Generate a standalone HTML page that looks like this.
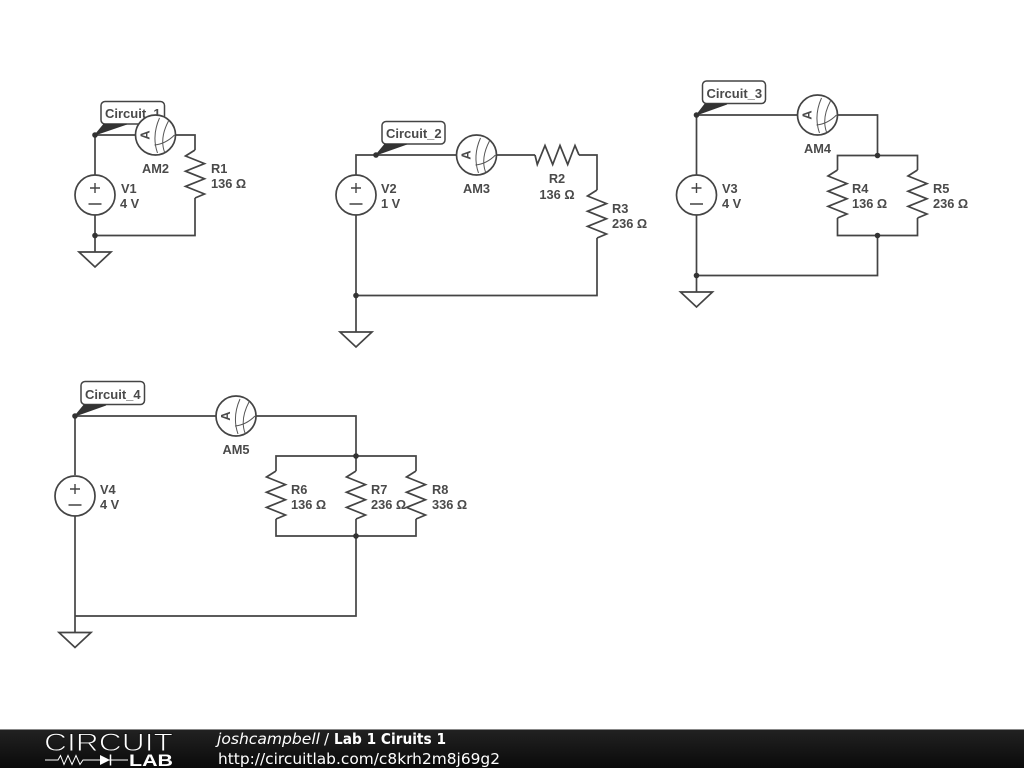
<!DOCTYPE html>
<html><head><meta charset="utf-8"><title>Lab 1 Ciruits 1</title>
<style>html,body{margin:0;padding:0;background:#fff;width:1024px;height:768px;overflow:hidden}svg{display:block}
.w{fill:none;stroke:#444;stroke-width:1.700}
.l{font:bold 12.8px "Liberation Sans",sans-serif;fill:#4a4a4a}
.t{font:bold 13px "Liberation Sans",sans-serif;fill:#4a4a4a}
.f{font-family:"DejaVu Sans",sans-serif;fill:#fff;font-size:15px}
</style></head><body>
<svg width="1024" height="768" viewBox="0 0 1024 768" xmlns="http://www.w3.org/2000/svg">
<defs>
<linearGradient id="bar" x1="0" y1="0" x2="0" y2="1"><stop offset="0" stop-color="#222"/><stop offset="1" stop-color="#0a0a0a"/></linearGradient>
<g id="am"><circle r="20" fill="#fff" stroke="#444" stroke-width="1.700"/>
<text class="l" transform="translate(-6,0) rotate(-90)" text-anchor="middle" y="0" style="font-size:13px">A</text>
<path d="M4,-17Q-4,1 2,18M13,-14Q4,3 9,17M-1,10Q10,9 19,0" fill="none" stroke="#555" stroke-width="1"/></g>
<polyline id="rv" class="w" points="0,-25 -9.500,-19 9.500,-11.400 -9.500,-3.800 9.500,3.800 -9.500,11.400 9.500,19 0,23"/>
<polyline id="rh" class="w" points="-22,0 -19.700,9.500 -12,-9.500 -4.300,9.500 3,-9.500 10.700,9.500 18,-9.500 22,0"/>
<g id="src"><circle r="20" fill="#fff" stroke="#444" stroke-width="1.700"/><path d="M-5,-7H5M0,-12V-2M-6.500,9H6.500" fill="none" stroke="#444" stroke-width="1.400"/></g>
<path id="gnd" class="w" d="M-16,0H16L0,15Z" style="fill:#fff"/>
<circle id="d" r="2.800" fill="#333"/>
</defs>
<rect width="1024" height="768" fill="#fff"/>

<!-- Circuit 1 -->
<path class="w" d="M95,175V135H195V150M195,198V235.500H95M95,215V252"/>
<use href="#rv" x="195" y="175"/><use href="#src" x="95" y="195"/><use href="#gnd" x="95" y="252"/>
<use href="#d" x="95" y="235.500"/>
<rect x="101" y="101.500" width="63.500" height="22.500" rx="4" fill="#fff" stroke="#444" stroke-width="1.500"/>
<text class="t" x="105" y="118">Circuit_1</text>
<path d="M95,135L104,124H127Z" fill="#333" stroke="#333"/><use href="#d" x="95" y="135"/>
<use href="#am" x="155.500" y="135"/>
<text class="l" x="155.500" y="173" text-anchor="middle">AM2</text>
<text class="l" x="121" y="193">V1</text><text class="l" x="120" y="208">4 V</text>
<text class="l" x="211" y="173">R1</text><text class="l" x="211" y="188">136 Ω</text>

<!-- Circuit 2 -->
<path class="w" d="M356,175V155H535M579,155H597V190M597,238V295.500H356M356,215V332"/>
<use href="#rh" x="557" y="155"/><use href="#rv" x="597" y="215"/><use href="#src" x="356" y="195"/><use href="#gnd" x="356" y="332"/>
<use href="#d" x="356" y="295.500"/>
<rect x="382" y="121.500" width="63" height="22.500" rx="4" fill="#fff" stroke="#444" stroke-width="1.500"/>
<text class="t" x="386" y="138">Circuit_2</text>
<path d="M376,155L385,144H407Z" fill="#333" stroke="#333"/><use href="#d" x="376" y="155"/>
<use href="#am" x="476.500" y="155"/>
<text class="l" x="476.500" y="193" text-anchor="middle">AM3</text>
<text class="l" x="381" y="193">V2</text><text class="l" x="381" y="208">1 V</text>
<text class="l" x="557" y="183" text-anchor="middle">R2</text><text class="l" x="557" y="199" text-anchor="middle">136 Ω</text>
<text class="l" x="612" y="213">R3</text><text class="l" x="612" y="228">236 Ω</text>

<!-- Circuit 3 -->
<path class="w" d="M696.500,175V115H877.500V155.500M837.500,170V155.500H917.500V170M837.500,218V235.500H917.500V218M877.500,235.500V275.500H696.500M696.500,215V292"/>
<use href="#rv" x="837.500" y="195"/><use href="#rv" x="917.500" y="195"/><use href="#src" x="696.500" y="195"/><use href="#gnd" x="696.500" y="292"/>
<use href="#d" x="877.500" y="155.500"/><use href="#d" x="877.500" y="235.500"/><use href="#d" x="696.500" y="275.500"/>
<rect x="702.500" y="81" width="63" height="22.500" rx="4" fill="#fff" stroke="#444" stroke-width="1.500"/>
<text class="t" x="706.500" y="98">Circuit_3</text>
<path d="M696.500,115L705,104H727Z" fill="#333" stroke="#333"/><use href="#d" x="696.500" y="115"/>
<use href="#am" x="817.500" y="115"/>
<text class="l" x="817.500" y="153" text-anchor="middle">AM4</text>
<text class="l" x="722" y="193">V3</text><text class="l" x="722" y="208">4 V</text>
<text class="l" x="852" y="193">R4</text><text class="l" x="852" y="208">136 Ω</text>
<text class="l" x="933" y="193">R5</text><text class="l" x="933" y="208">236 Ω</text>

<!-- Circuit 4 -->
<path class="w" d="M75,475V416H356V456M276,471V456H416V471M356,456V471M276,519V536H416V519M356,519V616H75M75,515V632"/>
<use href="#rv" x="276" y="496"/><use href="#rv" x="356" y="496"/><use href="#rv" x="416" y="496"/><use href="#src" x="75" y="496"/><use href="#gnd" x="75" y="632.500"/>
<use href="#d" x="356" y="456"/><use href="#d" x="356" y="536"/>
<rect x="81" y="381.500" width="63.500" height="23" rx="4" fill="#fff" stroke="#444" stroke-width="1.500"/>
<text class="t" x="85" y="399">Circuit_4</text>
<path d="M75,416L84,405H106Z" fill="#333" stroke="#333"/><use href="#d" x="75" y="416"/>
<use href="#am" x="236" y="416"/>
<text class="l" x="236" y="454" text-anchor="middle">AM5</text>
<text class="l" x="100" y="494">V4</text><text class="l" x="100" y="509">4 V</text>
<text class="l" x="291" y="494">R6</text><text class="l" x="291" y="509">136 Ω</text>
<text class="l" x="371" y="494">R7</text><text class="l" x="371" y="509">236 Ω</text>
<text class="l" x="432" y="494">R8</text><text class="l" x="432" y="509">336 Ω</text>

<!-- Footer -->
<rect x="0" y="729" width="1024" height="39" fill="url(#bar)"/>
<rect x="0" y="729" width="1024" height="1" fill="#888"/>
<text x="44" y="751" textLength="129" lengthAdjust="spacingAndGlyphs" font-family="Liberation Sans,sans-serif" font-size="25" fill="#fff" stroke="#161616" stroke-width="0.9">CIRCUIT</text>
<path d="M45,760H58L60.500,755.500 64,764.500 68,755.500 72,764.500 76,755.500 80,764.500 83,760H100M108,760H128" fill="none" stroke="#fff" stroke-width="1"/>
<path d="M100,755L110,760 100,765Z" fill="#fff"/><path d="M110.500,754.500V765.500" stroke="#fff" stroke-width="1.500"/>
<text x="129" y="766" textLength="44" lengthAdjust="spacingAndGlyphs" font-family="Liberation Sans,sans-serif" font-weight="bold" font-size="16.5" fill="#fff">LAB</text>
<text class="f" x="217" y="744" font-style="italic" textLength="103" lengthAdjust="spacingAndGlyphs">joshcampbell</text>
<text class="f" x="324" y="744">/</text>
<text class="f" x="334" y="744" font-weight="bold" textLength="112" lengthAdjust="spacingAndGlyphs">Lab 1 Ciruits 1</text>
<text class="f" x="218" y="764" textLength="282" lengthAdjust="spacingAndGlyphs">http://circuitlab.com/c8krh2m8j69g2</text>
</svg>
</body></html>
